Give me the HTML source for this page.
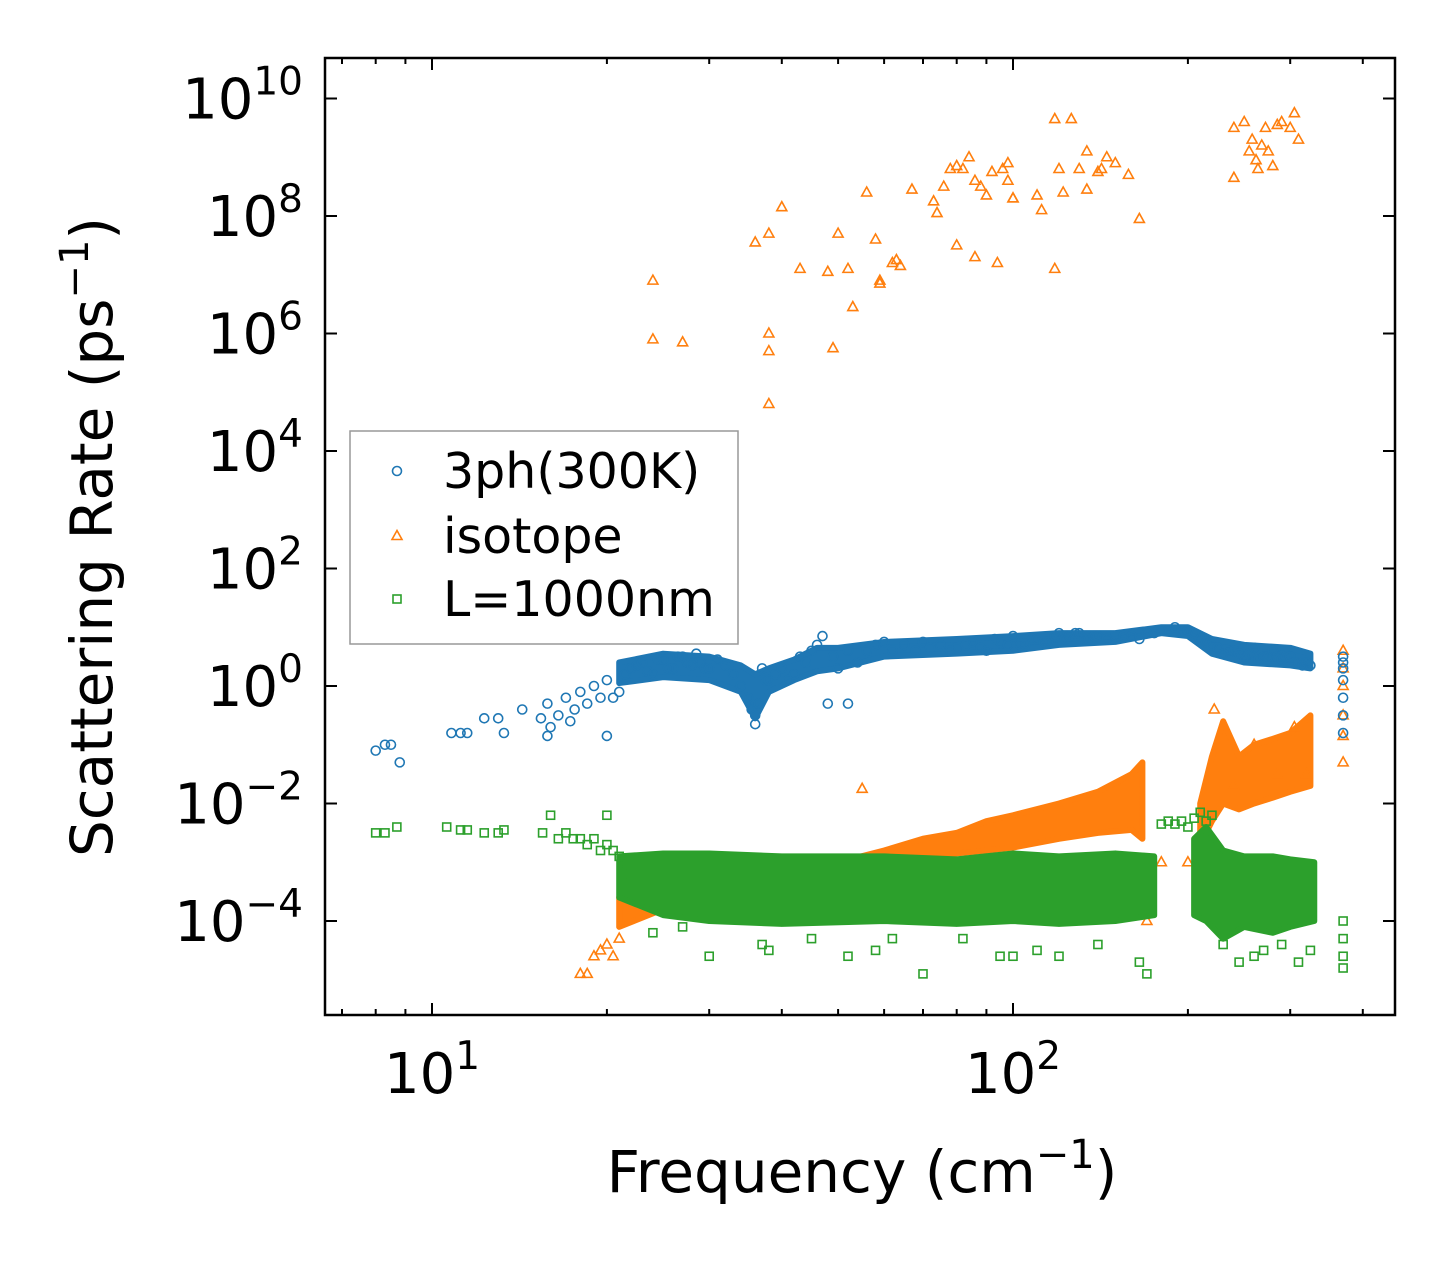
<!DOCTYPE html>
<html><head><meta charset="utf-8"><style>
html,body{margin:0;padding:0;background:#fff;}
svg{display:block;font-family:"DejaVu Sans","Liberation Sans",sans-serif;}
</style></head><body>
<svg id="chart" width="1455" height="1265" viewBox="0 0 1455 1265" xmlns="http://www.w3.org/2000/svg">
<rect x="0" y="0" width="1455" height="1265" fill="#fff"/>
<g id="marks"></g>
<g id="axes"></g>
</svg>
<script>
const xTickDecades = [1, 2];
const xTickLabels = ["10", "10"];
const xTickExps = ["1", "2"];
const yTickExps = [-4, -2, 0, 2, 4, 6, 8, 10];

const blueBandF = [21,25,30,34,36,38,42,46,50,60,80,100,120,150,180,200,220,250,300,325];
const blueBandLo = [0.05,0.15,0.1,-0.1,-0.55,-0.1,0.1,0.25,0.3,0.5,0.55,0.6,0.7,0.75,0.9,0.85,0.55,0.4,0.35,0.3];
const blueBandHi = [0.4,0.55,0.5,0.35,0.2,0.3,0.45,0.65,0.65,0.75,0.8,0.85,0.9,0.9,1.0,1.0,0.8,0.7,0.65,0.55];
const orangeBandF = [21,25,30,40,50,60,70,80,90,100,120,140,160,167];
const orangeBandLo = [-4.1,-3.8,-3.7,-3.4,-3.2,-3.05,-2.95,-2.85,-2.8,-2.75,-2.6,-2.5,-2.45,-2.6];
const orangeBandHi = [-3.6,-3.5,-3.4,-3.2,-3.0,-2.8,-2.6,-2.5,-2.3,-2.2,-2.0,-1.8,-1.5,-1.3];
const orangeBand2F = [210,220,230,245,260,280,300,325];
const orangeBand2Lo = [-2.7,-2.3,-2.0,-2.1,-2.0,-1.9,-1.8,-1.7];
const orangeBand2Hi = [-2.0,-1.2,-0.6,-1.2,-1.0,-0.9,-0.8,-0.5];
const greenBandF = [21,25,30,40,60,80,100,120,150,175];
const greenBandLo = [-3.6,-3.9,-4.0,-4.05,-4.0,-4.05,-4.0,-4.05,-4.0,-3.9];
const greenBandHi = [-2.9,-2.85,-2.85,-2.9,-2.9,-2.95,-2.85,-2.9,-2.85,-2.9];
const greenBand2F = [205,215,230,250,280,300,330];
const greenBand2Lo = [-3.9,-4.0,-4.3,-4.1,-4.2,-4.1,-4.0];
const greenBand2Hi = [-2.6,-2.4,-2.8,-2.9,-2.9,-2.95,-3.0];

const blueF = [8,8.3,8.5,8.8,10.8,11.2,11.5,12.3,13,13.3,14.3,15.4,15.8,15.8,16,16.5,17,17.3,17.6,18,18.5,19,19.5,20,20,20.5,21,21.5,22,22.5,23,23.5,24,24.5,25,25.5,26,26.5,27,27.5,28,28.5,29,29.5,30,31,32,33,34,35,35.5,36,36,36.5,37,37.5,38,39,40,41,42,43,44,45,46,47,48,49,50,52,52,54,56,58,60,62,65,68,70,72,75,78,80,83,85,88,90,93,95,98,100,103,105,108,110,113,115,118,120,123,125,128,130,133,135,138,140,145,150,155,160,165,170,175,180,185,190,195,200,205,210,215,220,225,230,235,240,245,250,255,260,265,270,275,280,285,290,295,300,305,310,315,320,325,370,370,370,370,370,370,370];
const blueV = [-1.1,-1.0,-1.0,-1.3,-0.8,-0.8,-0.8,-0.55,-0.55,-0.8,-0.4,-0.55,-0.3,-0.85,-0.7,-0.5,-0.2,-0.6,-0.4,-0.1,-0.3,0,-0.2,-0.85,0.1,-0.2,-0.1,0.2,0.3,0.35,0.4,0.25,0.2,0.45,0.45,0.3,0.3,0.5,0.5,0.4,0.35,0.55,0.4,0.3,0.3,0.45,0.35,0.2,0,-0.2,-0.4,-0.5,-0.65,-0.3,0.3,0.1,0.1,0.2,0.3,0.1,0.2,0.5,0.4,0.6,0.7,0.85,-0.3,0.5,0.3,-0.3,0.6,0.4,0.6,0.7,0.75,0.6,0.7,0.6,0.75,0.65,0.7,0.6,0.65,0.7,0.75,0.65,0.6,0.8,0.75,0.7,0.85,0.7,0.7,0.8,0.8,0.75,0.75,0.85,0.9,0.8,0.85,0.9,0.9,0.8,0.8,0.85,0.85,0.8,0.85,0.85,0.85,0.8,0.9,0.9,0.95,0.95,1.0,0.95,0.95,0.9,0.8,0.75,0.7,0.65,0.55,0.6,0.6,0.55,0.5,0.55,0.65,0.45,0.5,0.5,0.6,0.5,0.45,0.5,0.5,0.4,0.4,0.35,0.4,0.35,0.5,0.3,0.1,-0.2,-0.5,-0.8,0.4];

const orangeF = [24,24,27,36,38,38,38,38,40,43,48,49,50,52,53,56,58,59,59,62,63,64,67,73,74,76,78,80,80,82,84,86,86,88,90,92,94,96,98,98,100,100,110,112,118,118,120,122,126,130,134,134,140,142,145,150,158,165,240,240,250,255,258,262,264,268,272,275,280,285,290,300,305,310,
18,18.5,19,19.5,20,20.5,21,55,170,180,200,215,222,240,260,285,305,320,370,370,370,370,370,370];
const orangeV = [6.9,5.9,5.85,7.55,7.7,6.0,5.7,4.8,8.15,7.1,7.05,5.75,7.7,7.1,6.45,8.4,7.6,6.85,6.9,7.2,7.25,7.15,8.45,8.25,8.05,8.5,8.8,8.85,7.5,8.8,9.0,8.6,7.3,8.5,8.35,8.75,7.2,8.8,8.9,8.6,8.3,8.3,8.35,8.1,9.65,7.1,8.8,8.4,9.65,8.8,9.1,8.45,8.75,8.8,9.0,8.9,8.7,7.95,8.65,9.5,9.6,9.1,9.3,8.95,8.8,9.2,9.5,9.1,8.85,9.55,9.6,9.5,9.75,9.3,
-4.9,-4.9,-4.6,-4.5,-4.4,-4.6,-4.3,-1.75,-4.0,-3.0,-3.0,-2.2,-0.4,-1.7,-1.0,-1.5,-0.7,-1.5,0.6,0.3,0,-0.5,-1.3,-0.85];

const greenF = [8,8.3,8.7,10.6,11.2,11.5,12.3,13,13.3,15.5,16,16.5,17,17.5,18,18.5,19,19.5,20,20,20.5,21,21.5,22,24,27,30,37,38,45,52,58,62,70,82,95,100,110,120,140,165,170,180,185,190,195,200,205,210,215,220,230,245,260,270,290,310,325,370,370,370,370];
const greenV = [-2.5,-2.5,-2.4,-2.4,-2.45,-2.45,-2.5,-2.5,-2.45,-2.5,-2.2,-2.6,-2.5,-2.6,-2.6,-2.7,-2.6,-2.8,-2.2,-2.7,-2.8,-2.9,-3.0,-3.2,-4.2,-4.1,-4.6,-4.4,-4.5,-4.3,-4.6,-4.5,-4.3,-4.9,-4.3,-4.6,-4.6,-4.5,-4.6,-4.4,-4.7,-4.9,-2.35,-2.3,-2.35,-2.3,-2.4,-2.25,-2.15,-2.3,-2.2,-4.4,-4.7,-4.6,-4.5,-4.4,-4.7,-4.5,-4.0,-4.3,-4.6,-4.8];

const X = f => 432 + 581 * (Math.log10(f) - 1);
const Y = l => 686 - 58.75 * l;
const NS = "http://www.w3.org/2000/svg";
const marks = document.getElementById("marks");
const axes = document.getElementById("axes");
const PL = 325, PR = 1395, PT = 58, PB = 1015;

function mk(tag, attrs, parent) {
  const e = document.createElementNS(NS, tag);
  for (const k in attrs) e.setAttribute(k, attrs[k]);
  parent.appendChild(e);
  return e;
}

const defs = mk("defs", {}, marks);
const cp = mk("clipPath", {id: "clip"}, defs);
mk("rect", {x: PL, y: PT, width: PR - PL, height: PB - PT}, cp);
const mg = mk("g", {"clip-path": "url(#clip)"}, marks);

function band(fs, lo, hi, c) {
  let d = "";
  for (let i = 0; i < fs.length; i++) d += (i ? "L" : "M") + X(fs[i]) + "," + Y(hi[i]);
  for (let i = fs.length - 1; i >= 0; i--) d += "L" + X(fs[i]) + "," + Y(lo[i]);
  return mk("path", {d: d + "Z", fill: c, stroke: c, "stroke-width": 6, "stroke-linejoin": "round"}, mg);
}
function circleMark(x, y, c) { return mk("circle", {cx: x, cy: y, r: 4.5, fill: "none", stroke: c, "stroke-width": 1.6}, mg); }
function triMark(x, y, c) { return mk("path", {d: `M${x},${y-5.5}L${x+5},${y+3.5}L${x-5},${y+3.5}Z`, fill: "none", stroke: c, "stroke-width": 1.6}, mg); }
function sqMark(x, y, c) { return mk("rect", {x: x-4, y: y-4, width: 8, height: 8, fill: "none", stroke: c, "stroke-width": 1.6}, mg); }

let b;
b = band(blueBandF, blueBandLo, blueBandHi, "#1f77b4");


b = band(orangeBandF, orangeBandLo, orangeBandHi, "#ff7f0e");


b = band(orangeBand2F, orangeBand2Lo, orangeBand2Hi, "#ff7f0e");


for (let i = 0; i < orangeF.length; i++) {
  const m = triMark(X(orangeF[i]), Y(orangeV[i]), "#ff7f0e");
  
  
}
b = band(greenBandF, greenBandLo, greenBandHi, "#2ca02c");


b = band(greenBand2F, greenBand2Lo, greenBand2Hi, "#2ca02c");


for (let i = 0; i < greenF.length; i++) {
  const m = sqMark(X(greenF[i]), Y(greenV[i]), "#2ca02c");
  
  
}
for (let i = 0; i < blueF.length; i++) {
  const m = circleMark(X(blueF[i]), Y(blueV[i]), "#1f77b4");
  
  
}

const frame = mk("rect", {x: PL, y: PT, width: PR - PL, height: PB - PT, fill: "none", stroke: "#000", "stroke-width": 2.5}, axes);



for (let d = 0; d <= 2; d++) {
  for (let m = 1; m <= 9; m++) {
    const f = m * Math.pow(10, d);
    const x = X(f);
    if (x < PL || x > PR) continue;
    const len = m === 1 ? 12 : 6;
    mk("line", {x1: x, y1: PB, x2: x, y2: PB - len, stroke: "#000", "stroke-width": 2}, axes);
    mk("line", {x1: x, y1: PT, x2: x, y2: PT + len, stroke: "#000", "stroke-width": 2}, axes);
  }
}
for (let i = 0; i < xTickDecades.length; i++) {
  const x = X(Math.pow(10, xTickDecades[i]));
  const t = mk("text", {x: x, y: 1093, "font-size": 56, "text-anchor": "middle", fill: "#000"}, axes);
  
  
  t.innerHTML = `${xTickLabels[i]}<tspan dy="-24" font-size="39">${xTickExps[i]}</tspan>`;
}
for (let i = 0; i < yTickExps.length; i++) {
  const y = Y(yTickExps[i]);
  mk("line", {x1: PL, y1: y, x2: PL + 12, y2: y, stroke: "#000", "stroke-width": 2}, axes);
  mk("line", {x1: PR, y1: y, x2: PR - 12, y2: y, stroke: "#000", "stroke-width": 2}, axes);
  const e = yTickExps[i];
  const t = mk("text", {x: 303, y: y + 20, "font-size": 56, "text-anchor": "end", fill: "#000"}, axes);
  
  
  t.innerHTML = `10<tspan dy="-24" font-size="39">${e < 0 ? "\u2212" + (-e) : e}</tspan>`;
}

const xt = mk("text", {x: 862, y: 1192, "font-size": 58, "text-anchor": "middle", fill: "#000"}, axes);


xt.innerHTML = `Frequency (cm<tspan dy="-24" font-size="40">\u22121</tspan><tspan dy="24">)</tspan>`;
const yt = mk("text", {x: 0, y: 0, "font-size": 58, "text-anchor": "middle", fill: "#000", transform: "translate(112,537) rotate(-90)"}, axes);


yt.innerHTML = `Scattering Rate (ps<tspan dy="-24" font-size="40">\u22121</tspan><tspan dy="24">)</tspan>`;

const lg = mk("g", {}, axes);


mk("rect", {x: 350, y: 431, width: 388, height: 213, fill: "#fff", stroke: "#999", "stroke-width": 1.5, "fill-opacity": 0.85}, lg);
const legendNames = ["3ph(300K)", "isotope", "L=1000nm"];
const legendColors = ["#1f77b4", "#ff7f0e", "#2ca02c"];
const legendY = [471, 536, 599];
for (let i = 0; i < 3; i++) {
  const y = legendY[i];
  const c = legendColors[i];
  let m;
  if (i === 0) m = mk("circle", {cx: 397, cy: y, r: 4.5, fill: "none", stroke: c, "stroke-width": 1.6}, lg);
  else if (i === 1) m = mk("path", {d: `M397,${y-5.5}L402,${y+3.5}L392,${y+3.5}Z`, fill: "none", stroke: c, "stroke-width": 1.6}, lg);
  else m = mk("rect", {x: 393, y: y-4, width: 8, height: 8, fill: "none", stroke: c, "stroke-width": 1.6}, lg);
  
  
  const t = mk("text", {x: 443, y: y + 17, "font-size": 49, fill: "#000"}, lg);
  
  
  t.textContent = legendNames[i];
}
</script>
</body></html>
